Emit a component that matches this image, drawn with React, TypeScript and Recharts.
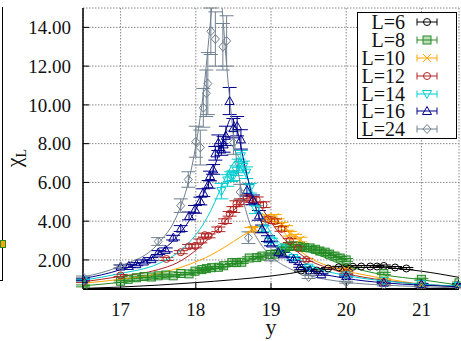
import React from "react"
import { ComposedChart, Scatter, Line, XAxis, YAxis, CartesianGrid, ErrorBar } from "recharts"

type Pt = [number, number, number] // x, chi, error
type Fp = [number, number] // x, fitted chi

const LABELS = ["L=6", "L=8", "L=10", "L=12", "L=14", "L=16", "L=24"]
const COLORS = ["#000000", "#228b22", "#ffa500", "#b22222", "#00ced1", "#00008b", "#708090"]
const MARKERS = ["circle", "square", "cross", "circle", "triDown", "triUp", "diamond"]
const X_TICKS = [17, 18, 19, 20, 21]
const Y_TICKS = [2, 4, 6, 8, 10, 12, 14]

const L6_PTS: Pt[] = [
  [19.4, 1.45, 0.04], [19.5, 1.45, 0.04], [19.61, 1.45, 0.04], [19.76, 1.56, 0.05],
  [19.9, 1.62, 0.05], [20.0, 1.62, 0.05], [20.09, 1.65, 0.05], [20.2, 1.66, 0.05],
  [20.32, 1.66, 0.05], [20.41, 1.66, 0.05], [20.5, 1.69, 0.05], [20.65, 1.61, 0.05],
  [20.8, 1.56, 0.05],
]
const L8_PTS: Pt[] = [
  [16.5, 0.66, 0.05], [17.0, 0.9, 0.05], [17.1, 1.0, 0.05], [17.21, 1.08, 0.05],
  [17.31, 1.14, 0.05], [17.41, 1.12, 0.05], [17.5, 1.18, 0.05], [17.6, 1.22, 0.05],
  [17.7, 1.18, 0.05], [17.8, 1.3, 0.05], [17.91, 1.28, 0.05], [17.99, 1.42, 0.05],
  [18.08, 1.5, 0.05], [18.14, 1.55, 0.05], [18.21, 1.6, 0.05], [18.3, 1.62, 0.05],
  [18.37, 1.7, 0.06], [18.48, 1.87, 0.06], [18.54, 1.86, 0.06], [18.61, 1.88, 0.06],
  [18.71, 2.1, 0.06], [18.81, 2.12, 0.06], [18.88, 2.2, 0.06], [18.99, 2.28, 0.06],
  [19.05, 2.3, 0.06], [19.14, 2.45, 0.06], [19.19, 2.62, 0.06], [19.25, 2.72, 0.07],
  [19.32, 2.72, 0.07], [19.39, 2.7, 0.07], [19.45, 2.64, 0.07], [19.52, 2.62, 0.07],
  [19.59, 2.55, 0.07], [19.65, 2.46, 0.07], [19.72, 2.4, 0.07], [19.78, 2.3, 0.07],
  [19.85, 2.2, 0.07], [19.92, 2.1, 0.07], [20.0, 2.0, 0.07], [20.5, 1.3, 0.06],
  [21.0, 1.0, 0.05], [21.5, 0.82, 0.04],
]
const L10_PTS: Pt[] = [
  [18.74, 3.55, 0.12], [18.79, 3.6, 0.12], [18.94, 4.2, 0.12], [19.0, 4.1, 0.12],
  [19.05, 4.22, 0.12], [19.09, 4.0, 0.12], [19.14, 3.82, 0.12], [19.2, 3.65, 0.12],
  [19.25, 3.35, 0.12], [19.32, 3.2, 0.12], [19.39, 3.05, 0.12], [20.0, 1.5, 0.06],
  [20.5, 1.0, 0.05], [21.0, 0.72, 0.04], [21.5, 0.6, 0.03],
]
const L12_PTS: Pt[] = [
  [16.5, 0.87, 0.04], [17.0, 1.2, 0.05], [17.61, 2.05, 0.08], [17.8, 2.4, 0.08],
  [17.91, 2.7, 0.1], [17.99, 2.72, 0.1], [18.06, 2.98, 0.1], [18.12, 3.28, 0.1],
  [18.17, 3.24, 0.1], [18.3, 3.58, 0.12], [18.39, 4.0, 0.12], [18.45, 4.38, 0.12],
  [18.5, 4.6, 0.15], [18.54, 4.9, 0.15], [18.6, 5.0, 0.15], [18.68, 5.2, 0.15],
  [18.75, 5.12, 0.15], [18.81, 5.1, 0.15], [18.9, 4.85, 0.15], [18.96, 4.1, 0.12],
  [19.05, 4.0, 0.12], [19.14, 3.6, 0.12], [19.25, 3.0, 0.1], [19.36, 2.6, 0.1],
  [19.47, 2.0, 0.08], [20.0, 1.35, 0.06], [20.5, 0.85, 0.04], [21.0, 0.7, 0.04],
  [21.5, 0.6, 0.03],
]
const L14_PTS: Pt[] = [
  [16.5, 0.95, 0.04], [18.34, 5.55, 0.4], [18.42, 6.1, 0.3], [18.47, 6.3, 0.25],
  [18.5, 6.35, 0.25], [18.54, 6.6, 0.25], [18.57, 6.9, 0.3], [18.6, 7.35, 0.3],
  [18.63, 6.8, 0.3], [18.67, 6.5, 0.3], [18.72, 5.7, 0.25], [18.8, 4.6, 0.2],
  [18.9, 3.6, 0.15], [19.0, 3.0, 0.12], [19.15, 2.6, 0.1], [19.3, 2.1, 0.08],
  [19.5, 1.6, 0.07], [20.0, 1.2, 0.05], [20.5, 0.92, 0.04], [21.0, 0.75, 0.04],
  [21.5, 0.65, 0.03],
]
const L16_PTS: Pt[] = [
  [16.5, 1.0, 0.05], [17.0, 1.66, 0.08], [17.11, 1.69, 0.08], [17.21, 1.78, 0.08],
  [17.31, 1.92, 0.08], [17.41, 2.04, 0.08], [17.5, 2.38, 0.1], [17.6, 2.52, 0.1],
  [17.7, 3.15, 0.12], [17.8, 3.62, 0.15], [17.91, 4.27, 0.2], [17.99, 4.61, 0.2],
  [18.06, 5.04, 0.2], [18.1, 5.47, 0.2], [18.17, 5.9, 0.2], [18.19, 6.33, 0.25],
  [18.23, 6.67, 0.25], [18.26, 7.5, 0.35], [18.3, 8.05, 0.4], [18.34, 7.7, 0.3],
  [18.37, 7.96, 0.4], [18.4, 8.4, 0.5], [18.45, 10.2, 0.7], [18.5, 8.8, 0.5],
  [18.55, 8.9, 0.5], [18.6, 8.22, 0.5], [18.68, 5.6, 0.3], [18.76, 5.1, 0.25],
  [18.84, 4.3, 0.25], [18.88, 3.6, 0.2], [18.96, 3.1, 0.15], [19.0, 2.85, 0.12],
  [19.1, 2.4, 0.1], [19.16, 2.29, 0.1], [19.3, 2.04, 0.08], [19.39, 1.69, 0.07],
  [19.52, 1.47, 0.06], [19.67, 1.26, 0.05], [20.0, 1.17, 0.05], [20.5, 0.83, 0.04],
  [21.0, 0.75, 0.04], [21.5, 0.75, 0.03],
]
const L24_PTS: Pt[] = [
  [16.5, 1.12, 0.05], [17.0, 1.65, 0.1], [17.5, 2.95, 0.2], [17.8, 4.8, 0.35],
  [17.9, 6.15, 0.4], [18.0, 8.1, 0.8], [18.06, 7.8, 0.9], [18.1, 9.85, 1.0],
  [18.14, 10.6, 1.2], [18.16, 11.1, 1.6], [18.2, 13.8, 1.2], [18.26, 13.4, 1.4],
  [18.36, 13.0, 1.2], [18.41, 13.3, 1.3], [18.5, 8.05, 0.6], [18.59, 5.5, 0.4],
  [18.7, 3.15, 0.3], [19.0, 2.1, 0.15], [19.5, 1.12, 0.08], [20.0, 0.85, 0.05],
  [20.5, 0.7, 0.04], [21.0, 0.62, 0.03], [21.5, 0.58, 0.03],
]

const L6_FIT: Fp[] = [
  [16.5, 0.53], [17, 0.6], [17.5, 0.7], [18, 0.83], [18.5, 0.98], [19, 1.17], [19.25, 1.3],
  [19.5, 1.46], [19.75, 1.6], [20, 1.69], [20.25, 1.71], [20.5, 1.63], [20.75, 1.53],
  [21, 1.42], [21.25, 1.27], [21.5, 1.1],
]
const L8_FIT: Fp[] = [
  [16.5, 0.66], [17, 0.84], [17.5, 1.05], [18, 1.33], [18.5, 1.75], [18.8, 2.08], [19, 2.28],
  [19.2, 2.45], [19.35, 2.5], [19.5, 2.42], [19.7, 2.15], [19.85, 1.9], [20, 1.7],
  [20.25, 1.43], [20.5, 1.23], [21, 0.98], [21.5, 0.7],
]
const L10_FIT: Fp[] = [
  [16.5, 0.8], [17, 1.0], [17.5, 1.3], [17.9, 1.75], [18.2, 2.25], [18.4, 2.7], [18.6, 3.2],
  [18.75, 3.55], [18.9, 3.9], [19.0, 4.0], [19.1, 3.8], [19.2, 3.3], [19.35, 2.6],
  [19.5, 2.15], [19.75, 1.7], [20, 1.43], [20.5, 1.05], [21, 0.75], [21.5, 0.62],
]
const L12_FIT: Fp[] = [
  [16.5, 0.87], [17, 1.15], [17.5, 1.5], [17.75, 1.85], [17.9, 2.2], [18, 2.5], [18.2, 3.2],
  [18.4, 4.05], [18.55, 4.75], [18.7, 5.2], [18.8, 5.05], [18.9, 4.55], [19, 3.95],
  [19.15, 3.2], [19.3, 2.6], [19.5, 2.0], [19.75, 1.6], [20, 1.3], [20.5, 0.95],
  [21, 0.75], [21.5, 0.63],
]
const L14_FIT: Fp[] = [
  [16.5, 0.95], [17, 1.3], [17.5, 1.8], [17.75, 2.35], [18, 3.3], [18.1, 3.85], [18.2, 4.55],
  [18.3, 5.4], [18.4, 6.3], [18.5, 7.0], [18.56, 7.25], [18.62, 7.0], [18.7, 6.1],
  [18.8, 5.0], [18.9, 4.1], [19, 3.4], [19.15, 2.75], [19.3, 2.25], [19.5, 1.75],
  [20, 1.2], [20.5, 0.92], [21, 0.75], [21.5, 0.65],
]
const L16_FIT: Fp[] = [
  [16.5, 1.04], [17, 1.5], [17.5, 2.35], [17.75, 3.2], [18, 4.6], [18.2, 6.3], [18.3, 7.4],
  [18.4, 8.7], [18.47, 9.3], [18.55, 8.7], [18.65, 6.9], [18.75, 5.3], [18.9, 3.7],
  [19, 3.0], [19.25, 2.0], [19.5, 1.5], [20, 1.05], [20.5, 0.82], [21, 0.7], [21.5, 0.62],
]
const L24_FIT: Fp[] = [
  [16.5, 1.12], [17, 1.69], [17.5, 2.85], [17.75, 4.3], [17.9, 6.0], [18, 7.9], [18.1, 10.6],
  [18.2, 14.5], [18.25, 16.5], [18.3, 17], [18.35, 15], [18.4, 12.5], [18.5, 8.5],
  [18.6, 5.7], [18.7, 4.1], [18.85, 2.9], [19, 2.2], [19.25, 1.55], [19.5, 1.2],
  [20, 0.85], [20.5, 0.7], [21, 0.62], [21.5, 0.55],
]

const POINTS = [L6_PTS, L8_PTS, L10_PTS, L12_PTS, L14_PTS, L16_PTS, L24_PTS]
const FITS = [L6_FIT, L8_FIT, L10_FIT, L12_FIT, L14_FIT, L16_FIT, L24_FIT]

const FONT = '"Liberation Serif", "Times New Roman", Times, serif'

function marker(kind: string, color: string, cx: number, cy: number) {
  const common = { stroke: color, strokeWidth: 1, fill: "none" }
  switch (kind) {
    case "square":
      return <rect x={cx - 4} y={cy - 4} width={8} height={8} {...common} fill="rgba(34,139,34,0.3)" />
    case "cross":
      return <path d={`M${cx - 4},${cy - 4}L${cx + 4},${cy + 4}M${cx - 4},${cy + 4}L${cx + 4},${cy - 4}`} {...common} />
    case "triUp":
      return <path d={`M${cx},${cy - 4.5}L${cx + 4.5},${cy + 3.5}L${cx - 4.5},${cy + 3.5}Z`} {...common} />
    case "triDown":
      return <path d={`M${cx},${cy + 4.5}L${cx + 4.5},${cy - 3.5}L${cx - 4.5},${cy - 3.5}Z`} {...common} />
    case "diamond":
      return <path d={`M${cx},${cy - 4.5}L${cx + 4},${cy}L${cx},${cy + 4.5}L${cx - 4},${cy}Z`} {...common} />
    default:
      return <circle cx={cx} cy={cy} r={3.5} {...common} />
  }
}

function Legend() {
  return (
    <div
      style={{
        position: "absolute", left: 357, top: 12, width: 100, height: 127,
        border: "1px solid #000", background: "#fff", boxSizing: "border-box", fontFamily: FONT,
      }}
    >
      {LABELS.map((lab, i) => (
        <div key={lab} style={{ display: "flex", alignItems: "center", height: 17.9 }}>
          <span style={{ width: 47, textAlign: "right", fontSize: 20, lineHeight: "18px", color: "#111" }}>{lab}</span>
          <svg width={40} height={18}>
            <line x1={12} x2={32} y1={9} y2={9} stroke={COLORS[i]} strokeWidth={1} />
            <line x1={12} x2={12} y1={5.5} y2={12.5} stroke={COLORS[i]} strokeWidth={1} />
            <line x1={32} x2={32} y1={5.5} y2={12.5} stroke={COLORS[i]} strokeWidth={1} />
            {marker(MARKERS[i], COLORS[i], 22, 9)}
          </svg>
        </div>
      ))}
    </div>
  )
}

export default function App() {
  const tickStyle = { fontSize: 19, fill: "#111", fontFamily: FONT }
  return (
    <div style={{ position: "fixed", left: 0, top: 0, width: 461, height: 341, background: "#fff", fontFamily: FONT }}>
      {/* edge of the neighbouring panel */}
      <div style={{ position: "absolute", left: 0, top: 7, width: 2, height: 273, borderRight: "1.5px solid #000", borderBottom: "1px solid #000" }} />
      <div style={{ position: "absolute", left: 0, top: 240, width: 4, height: 6, background: "#ffa500", border: "1px solid #228b22" }} />

      <ComposedChart width={461} height={341} margin={{ top: 8, right: 2, bottom: 0, left: 0 }}>
        <CartesianGrid stroke="#888" strokeDasharray="1.5 1.5" />
        <XAxis
          type="number" dataKey="x" domain={[16.5, 21.5]} ticks={X_TICKS} allowDataOverflow
          height={52} tickSize={-6} tickMargin={20} tick={tickStyle}
          axisLine={{ stroke: "#000", strokeWidth: 2 }} tickLine={{ stroke: "#000" }}
          label={{
            content: () => (
              <text x={271} y={334} textAnchor="middle" fontSize={22} fontFamily={FONT} fill="#111">y</text>
            ),
          }}
        />
        <XAxis
          xAxisId="top" orientation="top" type="number" domain={[16.5, 21.5]} ticks={X_TICKS}
          allowDataOverflow height={0} tickSize={-6} tick={false}
          axisLine={{ stroke: "#000", strokeWidth: 1.5 }} tickLine={{ stroke: "#000" }}
        />
        <YAxis
          type="number" dataKey="y" domain={[0.5, 15]} ticks={Y_TICKS} allowDataOverflow
          width={83} tickSize={-6} tickMargin={18} tick={tickStyle}
          tickFormatter={(v: number) => v.toFixed(2)}
          axisLine={{ stroke: "#000", strokeWidth: 1.5 }} tickLine={{ stroke: "#000" }}
          label={{
            content: () => (
              <text transform="translate(21,158) rotate(-90)" textAnchor="middle" fontSize={22} fontFamily={FONT} fill="#111">
                χ<tspan fontSize={14} dy={5}>L</tspan>
              </text>
            ),
          }}
        />
        <YAxis
          yAxisId="right" orientation="right" type="number" domain={[0.5, 15]} ticks={Y_TICKS}
          allowDataOverflow width={0} tickSize={-6} tick={false}
          axisLine={{ stroke: "#000", strokeWidth: 1.5 }} tickLine={{ stroke: "#000" }}
        />
        {POINTS.map((pts, i) => (
          <Scatter
            key={`s${i}`}
            data={pts.map(([x, y, e]) => ({ x, y, e }))}
            dataKey="y"
            isAnimationActive={false}
            shape={(p: any) => (p.cx == null ? <g /> : marker(MARKERS[i], COLORS[i], p.cx, p.cy))}
          >
            <ErrorBar dataKey="e" direction="y" width={7} stroke={COLORS[i]} strokeWidth={1} />
          </Scatter>
        ))}
        {FITS.map((fit, i) => (
          <Line
            key={`l${i}`}
            data={fit.map(([x, y]) => ({ x, y }))}
            dataKey="y"
            type="monotone"
            stroke={COLORS[i]}
            strokeWidth={1}
            dot={false}
            activeDot={false}
            isAnimationActive={false}
          />
        ))}
      </ComposedChart>
      <Legend />
    </div>
  )
}
